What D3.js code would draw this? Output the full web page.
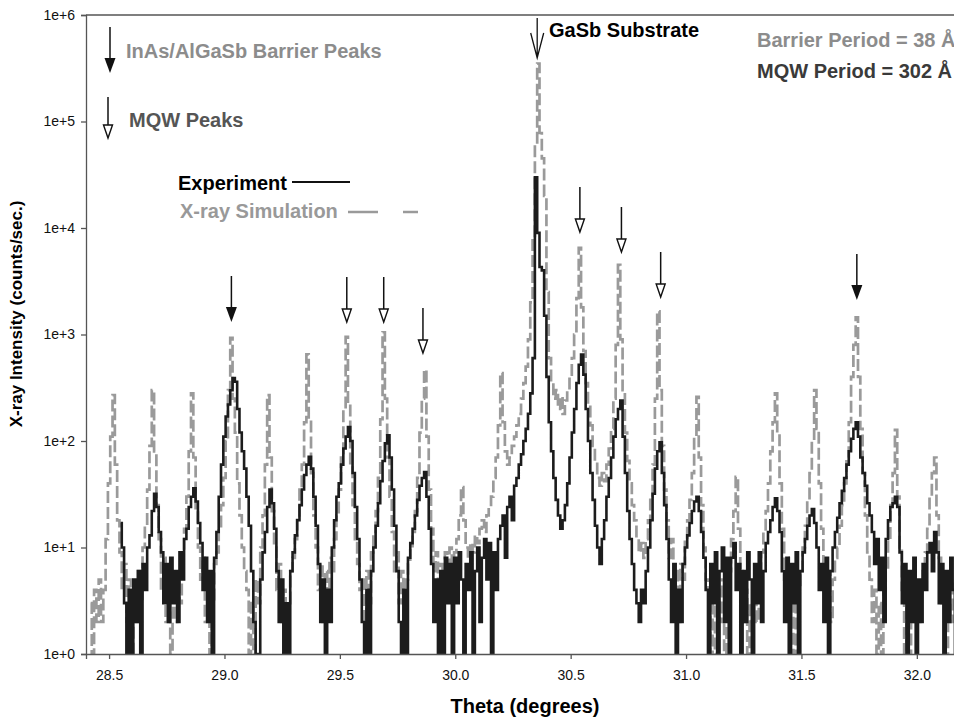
<!DOCTYPE html>
<html>
<head>
<meta charset="utf-8">
<script src="https://cdn.jsdelivr.net/npm/d3@7"></script>
<style>
body { margin: 0; background: #fff; }
text { font-family: "Liberation Sans", Arial, sans-serif; }
</style>
</head>
<body>
<script>
'use strict';

// sampling of both scans (degrees)
var thetaStep = 0.01;
var simStart = 28.42;
var expStart = 28.55;

// X-ray simulation, counts/sec, 28.42 .. 32.20
var simCounts = [
	3, 1, 4, 2, 5, 2, 4, 12,
	40, 110, 270, 60, 18, 9, 4, 7, 2, 5,
	1, 4, 2, 6, 3, 10, 16, 35, 90, 300,
	80, 25, 12, 4, 8, 2, 5, 1, 4, 2,
	5, 3, 9, 15, 30, 80, 280, 70, 22, 10,
	5, 8, 2, 4, 1, 3, 7, 9, 15, 25,
	45, 100, 300, 930, 250, 120, 40, 20, 10, 6,
	4, 1, 3, 1, 5, 3, 10, 20, 60, 270,
	70, 22, 10, 4, 7, 2, 4, 1, 3, 6,
	8, 12, 20, 35, 60, 150, 650, 160, 50, 20,
	10, 4, 7, 2, 6, 3, 8, 6, 12, 20,
	35, 70, 200, 950, 220, 60, 25, 12, 7, 4,
	5, 2, 6, 3, 9, 14, 22, 45, 160, 1050,
	250, 70, 30, 14, 6, 9, 3, 6, 2, 5,
	7, 10, 14, 22, 45, 120, 250, 465, 110, 35,
	15, 6, 9, 3, 7, 4, 9, 5, 10, 6,
	9, 12, 20, 37, 18, 10, 8, 11, 9, 13,
	11, 15, 18, 14, 20, 24, 30, 45, 70, 140,
	435, 150, 80, 60, 70, 90, 110, 140, 180, 250,
	350, 500, 900, 2000, 8000, 60000, 350000, 78000, 45000, 20000,
	2500, 600, 350, 250, 300, 200, 260, 180, 240, 300,
	420, 600, 1000, 2200, 6500, 1800, 700, 350, 220, 140,
	90, 65, 45, 38, 50, 42, 60, 85, 130, 250,
	800, 4500, 900, 300, 120, 65, 40, 25, 18, 12,
	9, 11, 8, 12, 18, 30, 60, 250, 1650, 300,
	90, 35, 18, 8, 12, 4, 6, 2, 7, 5,
	12, 18, 28, 50, 110, 260, 70, 25, 10, 5,
	4, 1, 3, 1, 4, 2, 5, 1, 3, 6,
	12, 22, 46, 15, 6, 2, 4, 1, 3, 2,
	5, 2, 6, 9, 14, 22, 40, 80, 150, 280,
	120, 40, 15, 5, 8, 2, 4, 1, 3, 4,
	6, 10, 16, 28, 50, 100, 300, 130, 40, 15,
	7, 3, 6, 2, 5, 8, 10, 16, 25, 40,
	70, 150, 400, 800, 1450, 400, 130, 50, 20, 9,
	5, 2, 4, 1, 3, 1, 4, 6, 12, 25,
	50, 127, 30, 10, 4, 1, 3, 1, 4, 2,
	3, 2, 4, 6, 9, 15, 30, 50, 70, 20,
	8, 3, 5, 1, 3, 2, 5, 2, 4, 6,
	4
];

// measured scan, counts/sec, 28.55 .. 32.20
var expCounts = [
	17, 10, 3, 1, 4,
	1, 5, 2, 6, 1, 7, 4, 10, 13, 22,
	32, 24, 14, 9, 3, 7, 2, 8, 3, 6,
	2, 9, 5, 12, 15, 24, 30, 36, 27, 17,
	11, 4, 8, 2, 6, 1, 8, 14, 30, 60,
	110, 170, 220, 300, 390, 360, 200, 120, 80, 55,
	30, 16, 6, 2, 1, 1, 5, 9, 14, 24,
	35, 26, 15, 6, 2, 5, 1, 3, 1, 6,
	9, 13, 18, 25, 35, 48, 60, 71, 55, 30,
	16, 7, 2, 5, 1, 4, 2, 10, 18, 30,
	40, 60, 85, 110, 135, 100, 50, 24, 12, 5,
	2, 1, 4, 1, 6, 10, 16, 26, 42, 65,
	95, 113, 70, 35, 16, 6, 2, 1, 4, 1,
	8, 11, 15, 20, 28, 38, 45, 51, 30, 15,
	7, 2, 5, 1, 6, 1, 8, 3, 7, 1,
	8, 3, 9, 5, 1, 7, 4, 9, 1, 6,
	10, 2, 8, 12, 5, 11, 1, 9, 4, 12,
	16, 20, 8, 24, 30, 18, 38, 45, 60, 75,
	100, 130, 180, 280, 600, 30000, 9000, 4300, 4000, 1500,
	400, 150, 80, 45, 28, 20, 15, 18, 25, 40,
	70, 120, 200, 350, 520, 650, 420, 200, 100, 50,
	28, 16, 10, 7, 12, 18, 30, 45, 70, 110,
	160, 200, 240, 110, 50, 22, 12, 7, 4, 3,
	2, 4, 3, 6, 10, 18, 32, 55, 80, 97,
	50, 25, 12, 5, 2, 7, 1, 4, 2, 7,
	10, 13, 17, 22, 27, 30, 22, 14, 8, 4,
	1, 7, 3, 9, 1, 6, 10, 2, 8, 1,
	8, 11, 4, 7, 1, 6, 2, 9, 5, 1,
	7, 3, 9, 2, 6, 11, 14, 18, 24, 29,
	22, 14, 6, 2, 8, 1, 7, 3, 9, 1,
	6, 9, 12, 16, 20, 23, 17, 10, 4, 7,
	2, 8, 1, 6, 10, 14, 19, 26, 34, 45,
	60, 80, 105, 130, 150, 110, 70, 50, 38, 26,
	20, 14, 7, 12, 4, 8, 2, 12, 18, 24,
	26, 30, 24, 9, 3, 7, 1, 6, 2, 8,
	1, 5, 2, 7, 4, 9, 11, 6, 14, 9,
	3, 7, 1, 6, 2, 8, 4, 1, 7, 3, 6
];

var xTicks = [28.5, 29.0, 29.5, 30.0, 30.5, 31.0, 31.5, 32.0];
var yTicks = [1, 10, 100, 1000, 10000, 100000, 1000000];

// peak markers: [theta, intensity the arrow points at]
var barrierArrows = [[29.03, 1310], [31.74, 2110]];
var mqwArrows = [[29.53, 1310], [29.69, 1310], [29.86, 670], [30.54, 9170], [30.72, 5950], [30.89, 2250]];
var substratePeak = 30.355;

var W = 954, H = 717;
var x = d3.scaleLinear().domain([28.4, 32.2]).range([86, 963]);
var y = d3.scaleLog().domain([1, 1e6]).range([654, 15]);

var svg = d3.select('body').append('svg').attr('width', W).attr('height', H);

svg.append('clipPath').attr('id', 'plot')
	.append('rect').attr('x', 86).attr('y', 15).attr('width', W - 86).attr('height', 639);

function line(start) {
	return d3.line()
		.x((d, i) => x(start + i * thetaStep))
		.y(d => y(Math.max(d, 0.9)))
		.curve(d3.curveStep);
}

var g = svg.append('g').attr('clip-path', 'url(#plot)');
g.append('path').datum(simCounts)
	.attr('d', line(simStart))
	.attr('fill', 'none')
	.attr('stroke', '#9a9a9a')
	.attr('stroke-width', 2.7)
	.attr('stroke-dasharray', '12,4');
g.append('path').datum(expCounts)
	.attr('d', line(expStart))
	.attr('fill', 'none')
	.attr('stroke', '#1c1c1c')
	.attr('stroke-width', 2.6);

// axes
svg.append('g').attr('transform', 'translate(86,0)')
	.call(d3.axisLeft(y).tickValues(yTicks)
		.tickFormat(d => '1e+' + Math.round(Math.log10(d)))
		.tickSize(5).tickPadding(6));
svg.append('g').attr('transform', 'translate(0,654)')
	.call(d3.axisBottom(x).tickValues(xTicks)
		.tickFormat(d3.format('.1f'))
		.tickSize(5).tickPadding(11));
svg.selectAll('.domain, .tick line').attr('stroke', '#555').attr('stroke-width', 1.3);
svg.selectAll('.tick text').attr('font-size', 14).attr('fill', '#111')
	.attr('font-family', '"Liberation Sans", Arial, sans-serif');
svg.append('line').attr('x1', 86).attr('x2', W).attr('y1', 15).attr('y2', 15)
	.attr('stroke', '#555').attr('stroke-width', 1.3);

svg.append('text').attr('x', 525).attr('y', 713).attr('text-anchor', 'middle')
	.attr('font-size', 20).attr('font-weight', 'bold').text('Theta (degrees)');
svg.append('text').attr('transform', 'translate(22,314) rotate(-90)').attr('text-anchor', 'middle')
	.attr('font-size', 17).attr('font-weight', 'bold').text('X-ray Intensity (counts/sec.)');

// arrows
function filledArrow(cx, top, tip) {
	svg.append('line').attr('x1', cx).attr('x2', cx).attr('y1', top).attr('y2', tip - 12)
		.attr('stroke', '#111').attr('stroke-width', 1.5);
	svg.append('path').attr('d', `M${cx - 5.5},${tip - 15}L${cx + 5.5},${tip - 15}L${cx},${tip}Z`)
		.attr('fill', '#111');
}
function openArrow(cx, top, tip) {
	svg.append('line').attr('x1', cx).attr('x2', cx).attr('y1', top).attr('y2', tip - 13)
		.attr('stroke', '#111').attr('stroke-width', 1.5);
	svg.append('path').attr('d', `M${cx - 4.5},${tip - 13}L${cx + 4.5},${tip - 13}L${cx},${tip}Z`)
		.attr('fill', '#fff').attr('stroke', '#111').attr('stroke-width', 1.4);
}
barrierArrows.forEach(d => filledArrow(x(d[0]), y(d[1]) - 46, y(d[1])));
mqwArrows.forEach(d => openArrow(x(d[0]), y(d[1]) - 45, y(d[1])));

// substrate marker
var sx = x(substratePeak);
svg.append('path').attr('d', `M${sx},18L${sx},58M${sx - 6.5},33L${sx},58L${sx + 6.5},33`)
	.attr('fill', 'none').attr('stroke', '#111').attr('stroke-width', 1.3);
svg.append('text').attr('x', 549).attr('y', 37).attr('font-size', 20).attr('font-weight', 'bold')
	.attr('fill', '#000').text('GaSb Substrate');

// key
filledArrow(110, 27, 73);
openArrow(108, 97, 138);
svg.append('text').attr('x', 126).attr('y', 58).attr('font-size', 20).attr('font-weight', 'bold')
	.attr('fill', '#8c8c8c').text('InAs/AlGaSb Barrier Peaks');
svg.append('text').attr('x', 129).attr('y', 127).attr('font-size', 20).attr('font-weight', 'bold')
	.attr('fill', '#555').text('MQW Peaks');
svg.append('text').attr('x', 178).attr('y', 190).attr('font-size', 20).attr('font-weight', 'bold')
	.attr('fill', '#000').text('Experiment');
svg.append('line').attr('x1', 292).attr('x2', 350).attr('y1', 182).attr('y2', 182)
	.attr('stroke', '#111').attr('stroke-width', 2.2);
svg.append('text').attr('x', 180).attr('y', 218).attr('font-size', 20).attr('font-weight', 'bold')
	.attr('fill', '#999').text('X-ray Simulation');
svg.append('line').attr('x1', 348).attr('x2', 418).attr('y1', 212).attr('y2', 212)
	.attr('stroke', '#9a9a9a').attr('stroke-width', 2.4).attr('stroke-dasharray', '30,25');

svg.append('text').attr('x', 757).attr('y', 47).attr('font-size', 20).attr('font-weight', 'bold')
	.attr('fill', '#8c8c8c').text('Barrier Period = 38 Å');
svg.append('text').attr('x', 757).attr('y', 78).attr('font-size', 20).attr('font-weight', 'bold')
	.attr('fill', '#3a3a3a').text('MQW Period = 302 Å');
</script>
</body>
</html>
